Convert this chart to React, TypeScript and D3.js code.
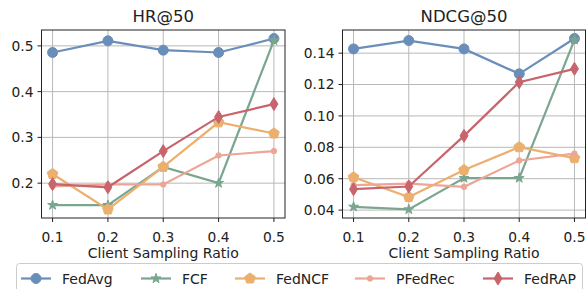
import * as d3 from 'd3';

const ratios = [0.1, 0.2, 0.3, 0.4, 0.5];
const methods = ['FedAvg', 'FCF', 'FedNCF', 'PFedRec', 'FedRAP'];
const colors = ['#6a8eba', '#7aa68f', '#ebb06e', '#eca696', '#c8646c'];
const markers = ['circle', 'star', 'pentagon', 'point', 'thin_diamond'];

const hrFedAvg = [0.4855, 0.511, 0.4906, 0.4855, 0.516];
const hrFCF = [0.152, 0.152, 0.2356, 0.2, 0.512];
const hrFedNCF = [0.22, 0.1425, 0.2356, 0.333, 0.3085];
const hrPFedRec = [0.193, 0.197, 0.197, 0.2605, 0.27];
const hrFedRAP = [0.198, 0.191, 0.27, 0.3447, 0.3727];

const ndcgFedAvg = [0.1427, 0.148, 0.1427, 0.1268, 0.1493];
const ndcgFCF = [0.0421, 0.0404, 0.0604, 0.0604, 0.1485];
const ndcgFedNCF = [0.0609, 0.0483, 0.0655, 0.0801, 0.0731];
const ndcgPFedRec = [0.0559, 0.0569, 0.0548, 0.0716, 0.076];
const ndcgFedRAP = [0.0533, 0.055, 0.0873, 0.1215, 0.13];

const hrTicks = [0.2, 0.3, 0.4, 0.5];
const ndcgTicks = [0.04, 0.06, 0.08, 0.1, 0.12, 0.14];

const FONT = '"DejaVu Sans", sans-serif';

function markerPath(kind: string): string {
  if (kind === 'circle') return d3.symbol(d3.symbolCircle, Math.PI * 25)()!;
  if (kind === 'point') return d3.symbol(d3.symbolCircle, Math.PI * 7.5)()!;
  if (kind === 'star') return d3.symbol(d3.symbolStar, 30)()!;
  if (kind === 'pentagon') {
    const r = 5.6;
    const pts = d3.range(5).map(i => {
      const a = -Math.PI / 2 + (i * 2 * Math.PI) / 5;
      return [r * Math.cos(a), r * Math.sin(a)];
    });
    return 'M' + pts.map(p => p.join(',')).join('L') + 'Z';
  }
  // thin diamond
  const h = 6.5, w = 4;
  return `M0,${-h}L${w},0L0,${h}L${-w},0Z`;
}

interface PanelProps {
  title: string;
  series: number[][];
  ticks: number[];
  fmt: (v: number) => string;
  left: number;
  right: number;
}

const TOP = 30;
const BOTTOM = 218;

function Panel({ title, series, ticks, fmt, left, right }: PanelProps) {
  const all = series.flat();
  const lo = d3.min(all)!, hi = d3.max(all)!;
  const pad = (hi - lo) * 0.05;
  const x = d3.scaleLinear().domain([0.1 - 0.4 * 0.05, 0.5 + 0.4 * 0.05]).range([left, right]);
  const y = d3.scaleLinear().domain([lo - pad, hi + pad]).range([BOTTOM, TOP]);
  const line = d3.line<number>().x((_, i) => x(ratios[i])).y(d => y(d));

  return (
    <g>
      {ratios.map(r => (
        <line key={'gx' + r} x1={x(r)} x2={x(r)} y1={TOP} y2={BOTTOM} stroke="#b8b8b8" strokeWidth={1} />
      ))}
      {ticks.map(t => (
        <line key={'gy' + t} x1={left} x2={right} y1={y(t)} y2={y(t)} stroke="#b8b8b8" strokeWidth={1} />
      ))}
      {series.map((s, k) => (
        <g key={methods[k]}>
          <path d={line(s)!} fill="none" stroke={colors[k]} strokeWidth={2.2} />
          {s.map((v, i) => (
            <path key={i} d={markerPath(markers[k])} transform={`translate(${x(ratios[i])},${y(v)})`} fill={colors[k]} stroke={colors[k]} strokeWidth={1} />
          ))}
        </g>
      ))}
      <rect x={left} y={TOP} width={right - left} height={BOTTOM - TOP} fill="none" stroke="#222" strokeWidth={1} />
      {ratios.map(r => (
        <g key={'tx' + r}>
          <line x1={x(r)} x2={x(r)} y1={BOTTOM} y2={BOTTOM + 4} stroke="#222" strokeWidth={1} />
          <text x={x(r)} y={242} textAnchor="middle" fontSize={13.8} fontFamily={FONT} fill="#222">{r.toFixed(1)}</text>
        </g>
      ))}
      {ticks.map(t => (
        <g key={'ty' + t}>
          <line x1={left - 4} x2={left} y1={y(t)} y2={y(t)} stroke="#222" strokeWidth={1} />
          <text x={left - 8} y={y(t)} dy="0.36em" textAnchor="end" fontSize={13.8} fontFamily={FONT} fill="#222">{fmt(t)}</text>
        </g>
      ))}
      <text x={(left + right) / 2} y={258} textAnchor="middle" fontSize={14} fontFamily={FONT} fill="#222">Client Sampling Ratio</text>
      <text x={(left + right) / 2} y={21.7} textAnchor="middle" fontSize={16.5} fontFamily={FONT} fill="#222">{title}</text>
    </g>
  );
}

const legendX = [21, 141, 235, 355, 483];

export default function App() {
  const hr = [hrFedAvg, hrFCF, hrFedNCF, hrPFedRec, hrFedRAP];
  const ndcg = [ndcgFedAvg, ndcgFCF, ndcgFedNCF, ndcgPFedRec, ndcgFedRAP];
  return (
    <svg width={586} height={289} style={{ position: 'absolute', left: 0, top: 0, background: '#fff' }}>
      <rect width={586} height={289} fill="#fff" />
      <Panel title="HR@50" series={hr} ticks={hrTicks} fmt={d3.format('.1f')} left={41.5} right={285} />
      <Panel title="NDCG@50" series={ndcg} ticks={ndcgTicks} fmt={d3.format('.2f')} left={342.5} right={585.5} />
      <rect x={16.5} y={263.5} width={566} height={34} rx={3} fill="#fff" stroke="#cccccc" strokeWidth={1} />
      {methods.map((m, k) => (
        <g key={m} transform={`translate(${legendX[k]},278.5)`}>
          <line x1={0} x2={30} y1={0} y2={0} stroke={colors[k]} strokeWidth={2.2} />
          <path d={markerPath(markers[k])} transform="translate(15,0)" fill={colors[k]} stroke={colors[k]} strokeWidth={1} />
          <text x={41} y={0} dy="0.36em" fontSize={14} fontFamily={FONT} fill="#222">{m}</text>
        </g>
      ))}
    </svg>
  );
}
